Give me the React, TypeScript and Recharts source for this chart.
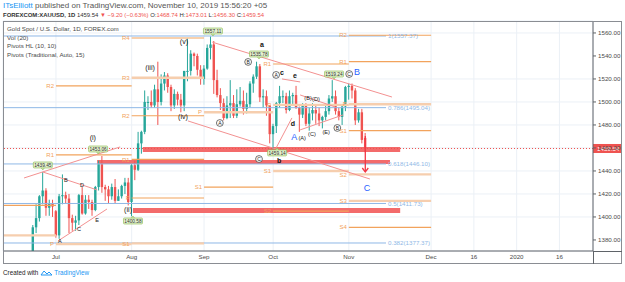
import React from "react";
import {
  ComposedChart,
  Bar,
  XAxis,
  YAxis,
  CartesianGrid,
  ReferenceLine,
  ReferenceArea,
  ReferenceDot,
} from "recharts";

const FONT = '"Liberation Sans", Arial, sans-serif';

// bar index: 0 = 1 Jul 2019, first candle = 20 Jun 2019
const firstBar = -7;

const opens = [
  1359, 1391, 1399, 1418, 1423, 1408, 1412,
  1405, 1384, 1418, 1419, 1416, 1399, 1395, 1397, 1419, 1403, 1415, 1413, 1406, 1426, 1446, 1426, 1424, 1418, 1426, 1414, 1418, 1427, 1430,
  1413, 1445, 1441, 1464, 1474, 1500, 1500, 1497, 1511, 1500, 1516, 1523, 1513, 1497, 1507, 1502, 1497, 1527, 1527, 1542, 1540, 1528,
  1520, 1529, 1547, 1550, 1519, 1506, 1499, 1486, 1497, 1499, 1488, 1498, 1501, 1494, 1498, 1516, 1522, 1531, 1504, 1505, 1497,
  1472, 1479, 1499, 1505, 1505, 1493, 1505, 1506, 1495, 1489, 1498, 1481, 1490, 1493, 1490, 1484, 1487, 1492, 1503, 1505, 1492, 1487, 1496,
  1513, 1514, 1510, 1484, 1491, 1468.74,
];
const highs = [
  1393, 1411, 1419, 1439, 1425, 1415, 1415,
  1406, 1420, 1437, 1422, 1420, 1402, 1401, 1420, 1426, 1419, 1419, 1415, 1427, 1449, 1453, 1428, 1427, 1429, 1433, 1424, 1428, 1434, 1434,
  1446, 1449, 1474, 1475, 1510, 1505, 1510, 1515, 1535, 1524, 1526, 1525, 1515, 1511, 1509, 1507, 1527, 1555, 1545, 1543, 1542, 1532,
  1532, 1550, 1557, 1553, 1528, 1512, 1503, 1505, 1519, 1506, 1511, 1513, 1510, 1508, 1518, 1524, 1535, 1533, 1511, 1510, 1497,
  1481, 1500, 1514, 1510, 1508, 1510, 1508, 1514, 1496, 1499, 1499, 1495, 1499, 1497, 1495, 1488, 1498, 1506, 1519, 1510, 1495, 1497, 1514,
  1516, 1516, 1512, 1494, 1494, 1473.01,
];
const lows = [
  1358, 1386, 1396, 1411, 1401, 1401, 1400,
  1382, 1381, 1411, 1412, 1386, 1388, 1388, 1393, 1402, 1402, 1407, 1401, 1405, 1423, 1421, 1414, 1412, 1415, 1412, 1414, 1416, 1420, 1410,
  1400.6, 1432, 1440, 1455, 1472, 1493, 1495, 1495, 1480, 1497, 1510, 1508, 1492, 1494, 1497, 1491, 1492, 1518, 1523, 1531, 1523, 1515,
  1515, 1528, 1537, 1507, 1504, 1493, 1484, 1485, 1486, 1486, 1486, 1496, 1489, 1490, 1495, 1508, 1520, 1500, 1495, 1488, 1464,
  1459, 1473, 1495, 1499, 1490, 1492, 1498, 1494, 1474, 1486, 1479, 1475, 1484, 1481, 1479, 1477, 1484, 1489, 1500, 1489, 1484, 1480, 1492,
  1502, 1503, 1480, 1482, 1464, 1456.3,
];
const closes = [
  1391, 1399, 1418, 1423, 1408, 1412, 1409,
  1384, 1418, 1419, 1416, 1399, 1395, 1397, 1419, 1403, 1415, 1413, 1406, 1426, 1446, 1426, 1424, 1418, 1426, 1414, 1418, 1427, 1430, 1413,
  1445, 1441, 1464, 1474, 1500, 1500, 1497, 1511, 1500, 1516, 1523, 1513, 1497, 1507, 1502, 1497, 1527, 1527, 1542, 1540, 1528, 1520,
  1529, 1547, 1550, 1519, 1506, 1499, 1486, 1497, 1499, 1488, 1498, 1501, 1494, 1498, 1516, 1522, 1531, 1504, 1505, 1497, 1472,
  1479, 1499, 1505, 1505, 1493, 1505, 1506, 1495, 1489, 1498, 1481, 1490, 1493, 1490, 1484, 1487, 1492, 1503, 1505, 1492, 1487, 1496, 1513,
  1514, 1510, 1484, 1491, 1467, 1459.54,
];

const xTickBars = [0, 23, 45, 66, 89, 114, 127, 140, 153];
const xTickLabels = ["Jul", "Aug", "Sep", "Oct", "Nov", "Dec", "16", "2020", "16"];
const yTicks = [1380, 1400, 1420, 1440, 1460, 1480, 1500, 1520, 1540, 1560];

// monthly pivot levels (name, price)
const junPivots: [string, number][] = [["R5", 1410], ["R4", 1384]];
const julPivots: [string, number][] = [["R2", 1514], ["R1", 1454], ["P", 1376.5]];
const augPivots: [string, number][] = [["R4", 1555.6], ["R3", 1521], ["R2", 1488], ["R1", 1450], ["P", 1416.5], ["S1", 1377]];
const sepPivots: [string, number][] = [["P", 1491], ["S1", 1426]];
const octPivots: [string, number][] = [["R1", 1533], ["P", 1497.5], ["S1", 1440], ["S2", 1405]];
const novPivots: [string, number][] = [["R2", 1558], ["R1", 1535], ["P", 1498], ["S1", 1475], ["S2", 1437], ["S3", 1414], ["S4", 1391]];
const pivotMonths = ["Jun", "Jul", "Aug", "Sep", "Oct", "Nov"];
const pivotStarts = [-20, 0, 23, 45, 66, 89];
const pivotEnds = [0, 23, 45, 66, 89, 114];

const fibRatios = ["1", "0.786", "0.618", "0.5", "0.382"];
const fibPrices = [1557.37, 1495.04, 1446.1, 1411.73, 1377.37];

const zoneFrom = [26.4, 12.5, 23.4];
const zoneTo = [104.6, 101.5, 104.6];
const zoneLow = [1456.5, 1446.1, 1403.5];
const zoneHigh = [1460.9, 1449.6, 1407.8];

const lastPrice = 1459.54;

// trend lines: [bar1, price1, bar2, price2]
const trendLines = [
  [-9.7, 1433.9, 19.5, 1460.9],
  [-4.0, 1439.1, 12.5, 1423.5],
  [0.6, 1379.1, 15.5, 1406.9],
  [47.5, 1552, 102.1, 1504.3],
  [40.1, 1483.5, 95.4, 1433.0],
  [66.9, 1460, 71.7, 1486.1],
  [68.7, 1520, 74.2, 1517.4],
  [74.2, 1475.7, 87.2, 1488.7],
  [74.2, 1506.1, 84.8, 1495.7],
];

const waveDegree = [
  { t: "(i)", i: 11.2, p: 1468.7 },
  { t: "(ii)", i: 21.9, p: 1406.1 },
  { t: "(iii)", i: 28.6, p: 1530.4 },
  { t: "(iv)", i: 38.6, p: 1487 },
  { t: "(v)", i: 38.9, p: 1552.2 },
];
const triangleLetters = [
  { t: "A", i: 1.2, p: 1379.1 },
  { t: "B", i: 3.0, p: 1432.2 },
  { t: "C", i: 7.0, p: 1389.6 },
  { t: "D", i: 7.9, p: 1427.8 },
  { t: "E", i: 12.5, p: 1397.4 },
  { t: "(A)", i: 74.8, p: 1468.7 },
  { t: "(B)", i: 76.6, p: 1503.5 },
  { t: "(C)", i: 77.8, p: 1472.2 },
  { t: "(D)", i: 79.0, p: 1502.6 },
  { t: "(E)", i: 82.1, p: 1473.9 },
];
const minorLetters = [
  { t: "a", i: 62.6, p: 1549.6 },
  { t: "b", i: 67.8, p: 1448.7 },
  { t: "c", i: 68.7, p: 1525.2 },
  { t: "d", i: 72.0, p: 1481.7 },
  { t: "e", i: 72.6, p: 1522.6 },
];
const circledLetters = [
  { t: "A", i: 49.8, p: 1481.7 },
  { t: "B", i: 58.4, p: 1534.8 },
  { t: "C", i: 61.7, p: 1450.4 },
  { t: "A", i: 66.9, p: 1523.5 },
  { t: "B", i: 85.5, p: 1477.4 },
  { t: "C", i: 89.1, p: 1524.3 },
];
const bigLetters = [
  { t: "A", i: 72.4, p: 1469.6 },
  { t: "B", i: 91.5, p: 1526.1 },
  { t: "C", i: 94.5, p: 1425.2 },
];
const priceTags = [
  { t: "1439.45", i: -4.0, p: 1445.2, low: false },
  { t: "1453.06", i: 12.8, p: 1459.1, low: false },
  { t: "1400.58", i: 23.4, p: 1396.5, low: true },
  { t: "1557.11", i: 47.7, p: 1561.7, low: false },
  { t: "1535.78", i: 61.7, p: 1541.7, low: false },
  { t: "1459.14", i: 67.2, p: 1455.7, low: true },
  { t: "1519.24", i: 84.5, p: 1524.3, low: false },
];
const arrowBar = 94;
const arrowFrom = 1470.4;
const arrowTo = 1439.1;

const candles = opens.map((o, k) => ({
  i: firstBar + k,
  open: o,
  high: highs[k],
  low: lows[k],
  close: closes[k],
  range: [lows[k], highs[k]],
}));

const softPivots = new Set(["Jun:R4", "Jul:P", "Aug:S1", "Aug:R3", "Sep:P", "Oct:P", "Oct:S1", "Nov:P", "Nov:S2", "Nov:S3"]);
const allPivots = [junPivots, julPivots, augPivots, sepPivots, octPivots, novPivots];

const UP = "#26a69a";
const DOWN = "#ef5350";
const ORANGE = "#f2a35c";
const TAN = "#f6ceae";
const FIB = "#8fb8e6";
const PINK = "#f39191";

function Candle(props: any) {
  const { x, y, width, height, payload } = props;
  if (!payload) return null;
  const h = Math.abs(height);
  const top = height < 0 ? y + height : y;
  const span = payload.high - payload.low;
  const k = span > 0 ? h / span : 0;
  const yo = top + (payload.high - payload.open) * k;
  const yc = top + (payload.high - payload.close) * k;
  const color = payload.close >= payload.open ? UP : DOWN;
  const cx = x + width / 2;
  return (
    <g>
      <line x1={cx} x2={cx} y1={top} y2={top + h} stroke={color} strokeWidth={1} />
      <rect x={cx - 1.2} y={Math.min(yo, yc)} width={2.4} height={Math.max(1, Math.abs(yc - yo))} fill={color} />
    </g>
  );
}

function PriceTag({ cx, cy, text, low }: any) {
  const w = 19;
  const h = 6;
  const base = low ? cy - h / 2 : cy + h / 2;
  const tip = low ? base - 2 : base + 2;
  return (
    <g>
      <path d={`M${cx - 1.5} ${base} L${cx} ${tip} L${cx + 1.5} ${base}`} fill="#e3f1cf" stroke="#86b94a" strokeWidth={0.6} />
      <rect x={cx - w / 2} y={cy - h / 2} width={w} height={h} rx={1} fill="#e3f1cf" stroke="#86b94a" strokeWidth={0.6} />
      <text x={cx} y={cy + 1.7} textAnchor="middle" fontSize={4.8} fill="#333" fontFamily={FONT}>
        {text}
      </text>
    </g>
  );
}

function PriceAxisLabel(props: any) {
  const vb = props.viewBox || {};
  const x = (vb.x || 0) + (vb.width || 0);
  const y = vb.y || 0;
  return (
    <g>
      <rect x={x} y={y - 4.5} width={29} height={9} fill={DOWN} />
      <text x={x + 4} y={y + 2.2} fontSize={6.2} fill="#fff" fontFamily={FONT}>
        {lastPrice.toFixed(2)}
      </text>
    </g>
  );
}

export default function App() {
  return (
    <div style={{ position: "relative", width: 625, height: 282, background: "#fff", overflow: "hidden", fontFamily: FONT }}>
      <style>{`body{margin:0;background:#fff}`}</style>

      <div style={{ position: "absolute", left: 0, top: 0 }}>
        <ComposedChart width={625} height={282} data={candles} margin={{ top: 21, right: 2, left: 3, bottom: 19 }}>
          <CartesianGrid stroke="#ebf0f6" strokeWidth={1} />
          <XAxis
            dataKey="i"
            type="number"
            domain={[-16.1, 163.2]}
            allowDataOverflow
            ticks={xTickBars}
            tickFormatter={(v: number) => xTickLabels[xTickBars.indexOf(v)] ?? ""}
            height={12}
            tickSize={0}
            tickMargin={4}
            axisLine={{ stroke: "#5f6368" }}
            tick={{ fontSize: 6.2, fill: "#4a4a4a", fontFamily: FONT }}
          />
          <YAxis
            orientation="right"
            type="number"
            domain={[1370.4, 1570.4]}
            allowDataOverflow
            ticks={yTicks}
            width={30}
            tickSize={3}
            tickMargin={2}
            tickFormatter={(v: number) => v.toFixed(2)}
            axisLine={{ stroke: "#5f6368" }}
            tickLine={{ stroke: "#5f6368" }}
            tick={{ fontSize: 6.2, fill: "#4a4a4a", fontFamily: FONT }}
          />

          {fibPrices.map((p, k) => (
            <ReferenceLine
              key={`fib${k}`}
              segment={[{ x: -20, y: p }, { x: 100.3, y: p }]}
              ifOverflow="hidden"
              stroke={FIB}
              strokeWidth={1}
              label={{ value: `${fibRatios[k]}(${p.toFixed(2)})`, position: "right", offset: 2, fill: FIB, fontSize: 6.2, fontFamily: FONT }}
            />
          ))}

          {allPivots.map((levels, m) =>
            levels.map(([name, v]) => {
              const soft = softPivots.has(`${pivotMonths[m]}:${name}`);
              return (
                <ReferenceLine
                  key={`pv${m}${name}`}
                  segment={[{ x: pivotStarts[m], y: v }, { x: pivotEnds[m], y: v }]}
                  ifOverflow="hidden"
                  stroke={soft ? TAN : ORANGE}
                  strokeWidth={soft ? 2.4 : 1.2}
                  label={m === 0 ? undefined : { value: name, position: "left", offset: 2, fill: ORANGE, fontSize: 6, fontFamily: FONT }}
                />
              );
            })
          )}

          {zoneLow.map((lo, k) => (
            <ReferenceArea
              key={`zone${k}`}
              x1={zoneFrom[k]}
              x2={zoneTo[k]}
              y1={lo}
              y2={zoneHigh[k]}
              fill="#f36b6b"
              fillOpacity={1}
              stroke="none"
              ifOverflow="hidden"
            />
          ))}

          <ReferenceLine y={lastPrice} stroke={DOWN} strokeDasharray="1 2" strokeWidth={1} label={<PriceAxisLabel />} />

          {trendLines.map((l, k) => (
            <ReferenceLine
              key={`tl${k}`}
              segment={[{ x: l[0], y: l[1] }, { x: l[2], y: l[3] }]}
              ifOverflow="hidden"
              stroke={PINK}
              strokeWidth={1}
            />
          ))}

          <Bar dataKey="range" barSize={3} shape={(p: any) => <Candle {...p} />} isAnimationActive={false} />

          <ReferenceLine
            segment={[{ x: arrowBar, y: arrowFrom }, { x: arrowBar, y: arrowTo }]}
            stroke="#f23645"
            strokeWidth={1.3}
          />
          <ReferenceDot
            x={arrowBar}
            y={arrowTo}
            r={0}
            shape={(p: any) => (
              <path d={`M${p.cx - 3} ${p.cy - 4} L${p.cx} ${p.cy} L${p.cx + 3} ${p.cy - 4}`} fill="none" stroke="#f23645" strokeWidth={1.3} />
            )}
          />

          {waveDegree.map((a, k) => (
            <ReferenceDot
              key={`wd${k}`}
              x={a.i}
              y={a.p}
              r={0}
              shape={(p: any) => (
                <text x={p.cx} y={p.cy + 2.5} textAnchor="middle" fontSize={7.2} fill="#222" fontFamily={FONT}>
                  {a.t}
                </text>
              )}
            />
          ))}
          {triangleLetters.map((a, k) => (
            <ReferenceDot
              key={`tr${k}`}
              x={a.i}
              y={a.p}
              r={0}
              shape={(p: any) => (
                <text x={p.cx} y={p.cy + 2} textAnchor="middle" fontSize={5.6} fill="#222" fontFamily={FONT}>
                  {a.t}
                </text>
              )}
            />
          ))}
          {minorLetters.map((a, k) => (
            <ReferenceDot
              key={`mi${k}`}
              x={a.i}
              y={a.p}
              r={0}
              shape={(p: any) => (
                <text x={p.cx} y={p.cy + 2.5} textAnchor="middle" fontSize={7} fontWeight="bold" fill="#111" fontFamily={FONT}>
                  {a.t}
                </text>
              )}
            />
          ))}
          {circledLetters.map((a, k) => (
            <ReferenceDot
              key={`ci${k}`}
              x={a.i}
              y={a.p}
              r={0}
              shape={(p: any) => (
                <g>
                  <circle cx={p.cx} cy={p.cy} r={3.4} fill="#fff" stroke="#333" strokeWidth={0.7} />
                  <text x={p.cx} y={p.cy + 1.8} textAnchor="middle" fontSize={5} fill="#222" fontFamily={FONT}>
                    {a.t}
                  </text>
                </g>
              )}
            />
          ))}
          {bigLetters.map((a, k) => (
            <ReferenceDot
              key={`bg${k}`}
              x={a.i}
              y={a.p}
              r={0}
              shape={(p: any) => (
                <text x={p.cx} y={p.cy + 3.2} textAnchor="middle" fontSize={9} fill="#2962ff" fontFamily={FONT}>
                  {a.t}
                </text>
              )}
            />
          ))}
          {priceTags.map((a, k) => (
            <ReferenceDot
              key={`pt${k}`}
              x={a.i}
              y={a.p}
              r={0}
              ifOverflow="visible"
              shape={(p: any) => <PriceTag cx={p.cx} cy={p.cy} text={a.t} low={a.low} />}
            />
          ))}
        </ComposedChart>
      </div>

      {/* frame */}
      <div style={{ position: "absolute", left: 3, top: 21, width: 619, height: 243, border: "1px solid #8a8d93", boxSizing: "border-box", pointerEvents: "none" }} />
      <div style={{ position: "absolute", left: 593, top: 251, width: 1, height: 13, background: "#5f6368" }} />
      <div style={{ position: "absolute", left: 593, top: 251, width: 29, height: 1, background: "#5f6368" }} />

      {/* header */}
      <div style={{ position: "absolute", left: 3, top: 1, fontSize: 8, lineHeight: "10px", whiteSpace: "nowrap", color: "#555" }}>
        <span style={{ color: "#2196f3" }}>ITsElliott</span> published on TradingView.com, November 10, 2019 15:56:20 +05
      </div>
      <div style={{ position: "absolute", left: 3, top: 11, fontSize: 5.95, lineHeight: "9px", whiteSpace: "nowrap", color: "#333" }}>
        <b>FOREXCOM:XAUUSD, 1D</b> 1459.54 <span style={{ color: DOWN }}>▼ −9.20 (−0.63%)</span> O:<span style={{ color: DOWN }}>1468.74</span> H:
        <span style={{ color: DOWN }}>1473.01</span> L:<span style={{ color: DOWN }}>1456.30</span> C:<span style={{ color: DOWN }}>1459.54</span>
      </div>

      {/* legend */}
      <div style={{ position: "absolute", left: 7, top: 25, fontSize: 6.2, lineHeight: "8.7px", whiteSpace: "nowrap", color: "#4a4a4a" }}>
        <div>Gold Spot / U.S. Dollar, 1D, FOREX.com</div>
        <div>Vol (20)</div>
        <div>Pivots HL (10, 10)</div>
        <div>Pivots (Traditional, Auto, 15)</div>
      </div>

      {/* footer */}
      <div style={{ position: "absolute", left: 3, top: 269, fontSize: 6.3, lineHeight: "8px", whiteSpace: "nowrap", color: "#222", display: "flex", alignItems: "center" }}>
        <span>Created with</span>
        <svg width={13} height={8} style={{ margin: "0 1px 0 2px" }}>
          <path d="M1 6 L4 2 L7 5 L9 3 L12 6 Z" fill="none" stroke="#2196f3" strokeWidth={1} />
        </svg>
        <span style={{ color: "#2196f3" }}>TradingView</span>
      </div>
    </div>
  );
}
